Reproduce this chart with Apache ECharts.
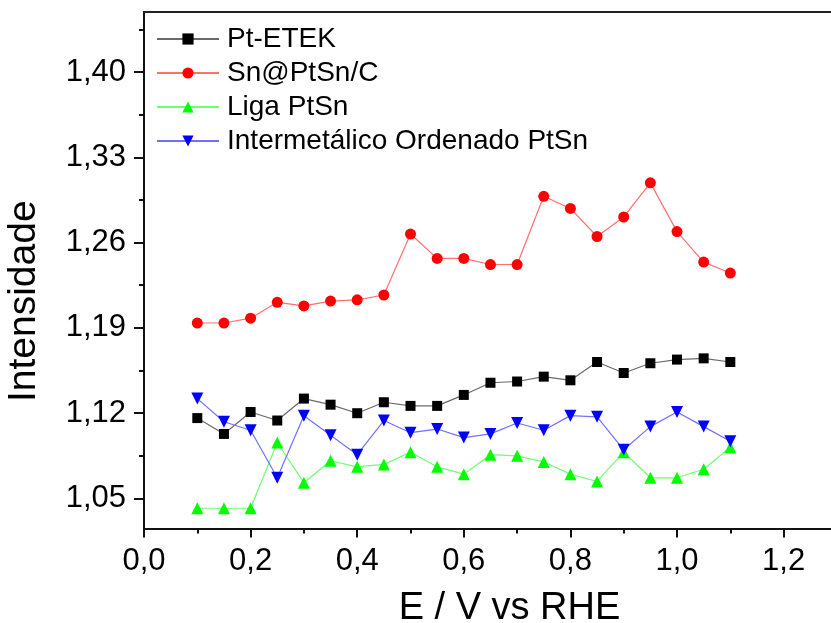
<!DOCTYPE html>
<html>
<head>
<meta charset="utf-8">
<script src="https://cdn.jsdelivr.net/npm/echarts@6/dist/echarts.min.js"></script>
<style>
  html, body { margin: 0; padding: 0; background: #ffffff; }
  #chart { width: 831px; height: 623px; }
</style>
</head>
<body>
<div id="chart"></div>
<script>
// Potential (V vs RHE) for each measurement
const potentials = [0.10, 0.15, 0.20, 0.25, 0.30, 0.35, 0.40, 0.45, 0.50, 0.55, 0.60,
                    0.65, 0.70, 0.75, 0.80, 0.85, 0.90, 0.95, 1.00, 1.05, 1.10];

// Intensity per catalyst
const ptEtek = [1.116, 1.103, 1.121, 1.114, 1.132, 1.127, 1.120, 1.129, 1.126, 1.126, 1.135,
                1.145, 1.146, 1.150, 1.147, 1.162, 1.153, 1.161, 1.164, 1.165, 1.162];
const snPtSnC = [1.194, 1.194, 1.198, 1.211, 1.208, 1.212, 1.213, 1.217, 1.267, 1.247, 1.247,
                 1.242, 1.242, 1.298, 1.288, 1.265, 1.281, 1.309, 1.269, 1.244, 1.235];
const ligaPtSn = [1.042, 1.042, 1.042, 1.096, 1.063, 1.081, 1.076, 1.078, 1.088, 1.076, 1.070,
                  1.086, 1.085, 1.080, 1.070, 1.064, 1.088, 1.067, 1.067, 1.074, 1.092];
const intermetalico = [1.132, 1.113, 1.106, 1.067, 1.118, 1.102, 1.086, 1.114, 1.104, 1.107, 1.100,
                       1.103, 1.112, 1.106, 1.118, 1.117, 1.090, 1.109, 1.121, 1.109, 1.097];

const seriesNames = ['Pt-ETEK', 'Sn@PtSn/C', 'Liga PtSn', 'Intermetálico Ordenado PtSn'];

// Axis ticks
const xTickValues = [0.0, 0.2, 0.4, 0.6, 0.8, 1.0, 1.2];
const xMinorTickValues = [0.1, 0.3, 0.5, 0.7, 0.9, 1.1];
const yTickValues = [1.05, 1.12, 1.19, 1.26, 1.33, 1.40];
const yMinorTickValues = [1.085, 1.155, 1.225, 1.295, 1.365, 1.435];

// The frame runs past the right edge of the page, so the visible range stops short of 1,3
const X_MIN = 0, X_MAX = 1.2889;
const Y_MIN = 1.0254, Y_MAX = 1.4492;
const FONT = 'Liberation Sans, Arial, sans-serif';

const pairs = vals => potentials.map((x, i) => [x, vals[i]]);

function lineSeries(name, vals, symbol, size, markerColor, lineColor) {
  return {
    name: name,
    type: 'line',
    data: pairs(vals),
    symbol: symbol,
    symbolSize: size,
    showAllSymbol: true,
    itemStyle: { color: markerColor },
    lineStyle: { color: lineColor, width: 1.2 },
    emphasis: { disabled: true },
    animation: false
  };
}

const chart = echarts.init(document.getElementById('chart'), null, { renderer: 'canvas' });

chart.setOption({
  backgroundColor: '#ffffff',
  animation: false,
  grid: { left: 144, top: 12, right: 0, bottom: 94.5, containLabel: false, outerBoundsMode: 'none' },
  legend: {
    orient: 'vertical',
    left: 156,
    top: 25,
    padding: 0,
    itemWidth: 62,
    itemHeight: 14,
    itemGap: 6,
    data: seriesNames,
    textStyle: { fontFamily: FONT, fontSize: 28, color: '#000', padding: [0, 0, 0, 3] },
    selectedMode: false
  },
  xAxis: [
    {
      type: 'value', position: 'bottom', min: X_MIN, max: X_MAX,
      name: 'E / V vs RHE', nameLocation: 'middle', nameGap: 61,
      nameTextStyle: { fontFamily: FONT, fontSize: 38, color: '#000', padding: [0, 0, 0, 44] },
      axisLine: { show: true, onZero: false, lineStyle: { color: '#111', width: 2 } },
      axisTick: { show: true, inside: false, length: 9, customValues: xTickValues, lineStyle: { color: '#111', width: 2 } },
      axisLabel: {
        customValues: xTickValues, margin: 17,
        fontFamily: FONT, fontSize: 31, color: '#000',
        formatter: v => v.toFixed(1).replace('.', ',')
      },
      splitLine: { show: false }
    },
    {
      type: 'value', position: 'bottom', min: X_MIN, max: X_MAX,
      axisLine: { show: false, onZero: false },
      axisTick: { show: true, inside: false, length: 5, customValues: xMinorTickValues, lineStyle: { color: '#111', width: 2 } },
      axisLabel: { show: false },
      splitLine: { show: false }
    },
    {
      type: 'value', position: 'top', min: X_MIN, max: X_MAX,
      axisLine: { show: true, onZero: false, lineStyle: { color: '#222', width: 2 } },
      axisTick: { show: false },
      axisLabel: { show: false },
      splitLine: { show: false }
    }
  ],
  yAxis: [
    {
      type: 'value', position: 'left', min: Y_MIN, max: Y_MAX,
      name: 'Intensidade', nameLocation: 'middle', nameGap: 100,
      nameTextStyle: { fontFamily: FONT, fontSize: 39, color: '#000', padding: [0, 62, 0, 0] },
      axisLine: { show: true, onZero: false, lineStyle: { color: '#111', width: 2 } },
      axisTick: { show: true, inside: false, length: 10, customValues: yTickValues, lineStyle: { color: '#111', width: 2 } },
      axisLabel: {
        customValues: yTickValues, margin: 18,
        fontFamily: FONT, fontSize: 31, color: '#000',
        formatter: v => v.toFixed(2).replace('.', ',')
      },
      splitLine: { show: false }
    },
    {
      type: 'value', position: 'left', min: Y_MIN, max: Y_MAX,
      axisLine: { show: false, onZero: false },
      axisTick: { show: true, inside: false, length: 5, customValues: yMinorTickValues, lineStyle: { color: '#111', width: 2 } },
      axisLabel: { show: false },
      splitLine: { show: false }
    }
  ],
  series: [
    lineSeries(seriesNames[0], ptEtek, 'rect', 10, '#000000', '#6a6a6a'),
    lineSeries(seriesNames[1], snPtSnC, 'circle', 11, '#ff0000', '#ff7070'),
    lineSeries(seriesNames[2], ligaPtSn, 'triangle', 12, '#00ff00', '#70ff70'),
    Object.assign(lineSeries(seriesNames[3], intermetalico, 'triangle', 12, '#0000ff', '#7070ff'), { symbolRotate: 180 })
  ]
});
</script>
</body>
</html>
